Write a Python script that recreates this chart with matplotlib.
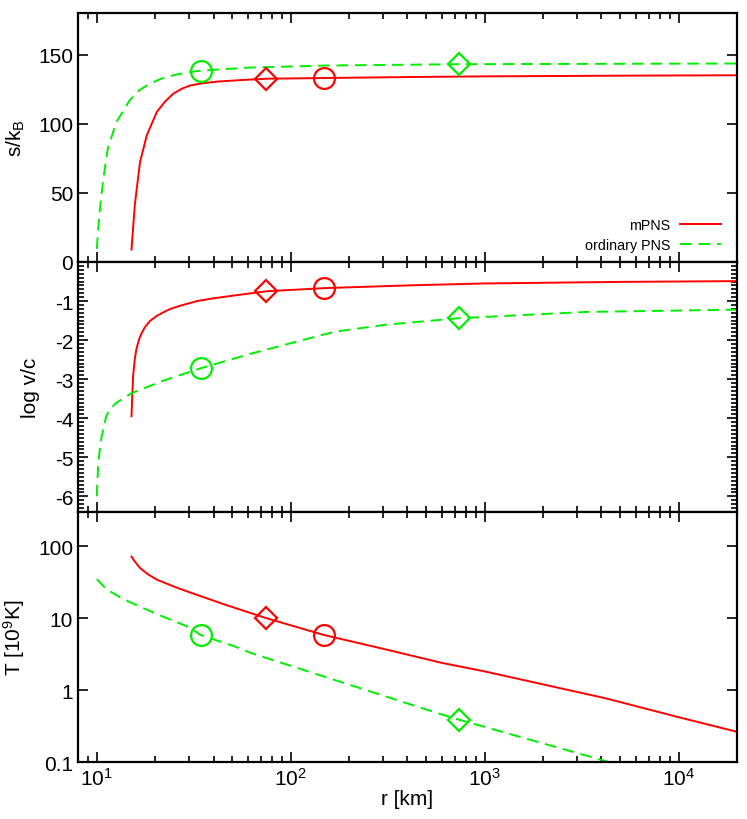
import matplotlib
matplotlib.use('Agg')
import matplotlib.pyplot as plt
from matplotlib.ticker import MultipleLocator, FixedLocator, FixedFormatter, LogLocator, NullFormatter

plt.rcParams['font.family'] = ['Liberation Sans', 'DejaVu Sans']
plt.rcParams['mathtext.fontset'] = 'custom'
plt.rcParams['mathtext.rm'] = 'Liberation Sans'
plt.rcParams['mathtext.it'] = 'Liberation Sans'
plt.rcParams['axes.unicode_minus'] = False

# --- entropy panel (s/k_B) ---
r_s_m = [15.1, 15.7, 16.7, 18.1, 20.4, 22.5, 24.8, 27.5, 30.3, 35, 41.7, 55, 75, 148, 400, 1000, 5000, 20000]
s_m = [9, 41, 72, 91.5, 108.5, 116, 121.7, 125.3, 127.6, 129.2, 130.4, 131.5, 132.5, 133, 133.7, 134.2,
       134.7, 135]
r_s_o = [10, 10.3, 10.8, 11.4, 12.6, 14.8, 16.5, 18.8, 21.5, 24.8, 28.5, 34.2, 60, 150, 733, 20000]
s_o = [9.4, 34, 60, 82, 101, 117, 124, 129, 132.5, 135, 136.8, 138.3, 140.5, 142, 143, 143.5]

# --- velocity panel (log v/c) ---
r_v_m = [15.1, 15.24, 15.4, 15.7, 16, 16.5, 17, 17.7, 18.8, 20.4, 22, 24, 26.9, 33, 40, 49, 75, 148, 400,
         1000, 5000, 20000]
v_m = [-3.95, -3.43, -2.91, -2.49, -2.23, -1.99, -1.83, -1.67, -1.51, -1.38, -1.29, -1.2, -1.12, -1.0,
       -0.93, -0.87, -0.75, -0.67, -0.6, -0.55, -0.51, -0.49]
r_v_o = [10, 10.16, 10.45, 10.8, 11.2, 11.7, 12.64, 15.1, 22, 34.4, 62, 167, 304, 733, 3300, 20000]
v_o = [-6.0, -5.22, -4.62, -4.28, -3.94, -3.77, -3.6, -3.36, -3.04, -2.72, -2.35, -1.79, -1.61, -1.44,
       -1.28, -1.22]

# --- temperature panel (T [10^9 K]) ---
r_t_m = [15.1, 15.6, 16.7, 18.3, 20.4, 25, 30.3, 45, 75, 148, 300, 598, 1000, 4200, 10000, 20000]
t_m = [72, 63, 50, 41, 34.4, 27.5, 22.8, 15.7, 10, 5.85, 3.75, 2.4, 1.82, 0.77, 0.42, 0.263]
r_t_o = [10, 11.2, 13.7, 20.4, 30.3, 34.2, 50.8, 62, 598, 733, 4370]
t_o = [35, 25.4, 18.4, 11.4, 7.4, 5.85, 4.1, 3.3, 0.46, 0.39, 0.1]

# marker positions (circle / diamond)
r_circ_m, r_diam_m = 148, 75
r_circ_o, r_diam_o = 34.3, 733
mark_s = {'circ_m': 133, 'diam_m': 132.5, 'circ_o': 138.3, 'diam_o': 143}
mark_v = {'circ_m': -0.67, 'diam_m': -0.75, 'circ_o': -2.72, 'diam_o': -1.44}
mark_t = {'circ_m': 5.85, 'diam_m': 10, 'circ_o': 5.85, 'diam_o': 0.39}

RED = '#ff0000'
GREEN = '#00ee00'
LW = 1.4
DASH = (0, (6, 3.5))
FS = 15

fig = plt.figure(figsize=(7.47, 8.2), dpi=100)
W, L = 0.8822, 0.1044
ax1 = fig.add_axes([L, 0.6793, W, 0.3036])
ax2 = fig.add_axes([L, 0.3744, W, 0.3049])
ax3 = fig.add_axes([L, 0.0695, W, 0.3049])

panels = [
    (ax1, r_s_m, s_m, r_s_o, s_o, mark_s),
    (ax2, r_v_m, v_m, r_v_o, v_o, mark_v),
    (ax3, r_t_m, t_m, r_t_o, t_o, mark_t),
]

for ax, rm, ym, ro, yo, mk in panels:
    ax.set_xscale('log')
    ax.plot(rm, ym, color=RED, lw=LW, label='mPNS')
    ax.plot(ro, yo, color=GREEN, lw=LW, linestyle=DASH, label='ordinary PNS')
    ax.plot([r_circ_m], [mk['circ_m']], 'o', ms=15, mfc='none', mec=RED, mew=1.6)
    ax.plot([r_diam_m], [mk['diam_m']], 'D', ms=11, mfc='none', mec=RED, mew=1.6)
    ax.plot([r_circ_o], [mk['circ_o']], 'o', ms=15, mfc='none', mec=GREEN, mew=1.6)
    ax.plot([r_diam_o], [mk['diam_o']], 'D', ms=11, mfc='none', mec=GREEN, mew=1.6)
    ax.set_xlim(8, 2e4)
    ax.xaxis.set_major_locator(LogLocator(base=10, numticks=10))
    ax.xaxis.set_minor_locator(LogLocator(base=10, subs=range(2, 10), numticks=20))
    ax.xaxis.set_minor_formatter(NullFormatter())
    ax.tick_params(which='both', direction='in', top=True, right=True, labelsize=FS, width=1.2)
    ax.tick_params(which='major', length=7)
    ax.tick_params(which='minor', length=4)
    for sp in ax.spines.values():
        sp.set_linewidth(1.6)
    if ax is not ax3:
        ax.tick_params(labelbottom=False)

ax1.set_ylim(0, 180)
ax1.yaxis.set_major_locator(FixedLocator([0, 50, 100, 150]))
ax1.yaxis.set_minor_locator(FixedLocator([]))
ax1.set_ylabel('s/k$_\\mathrm{B}$', fontsize=FS)
ax1.yaxis.set_label_coords(-0.077, 0.5)
leg = ax1.legend(loc='center right', bbox_to_anchor=(0.9757, 0.108), frameon=False,
                 markerfirst=False, fontsize=10.3, handlelength=2.86, handletextpad=0.7,
                 borderpad=0, borderaxespad=0, labelspacing=0.47)

ax2.set_ylim(-6.4, 0)
ax2.yaxis.set_major_locator(FixedLocator([-6, -5, -4, -3, -2, -1]))
ax2.yaxis.set_minor_locator(MultipleLocator(0.1))
ax2.set_ylabel('log v/c', fontsize=FS)
ax2.yaxis.set_label_coords(-0.058, 0.5)

ax3.set_yscale('log')
ax3.set_ylim(0.1, 300)
ax3.yaxis.set_major_locator(FixedLocator([0.1, 1, 10, 100]))
ax3.yaxis.set_major_formatter(FixedFormatter(['0.1', '1', '10', '100']))
ax3.yaxis.set_minor_locator(FixedLocator([]))
ax3.set_ylabel('T [10$^9$K]', fontsize=FS)
ax3.yaxis.set_label_coords(-0.077, 0.5)
ax3.set_xlabel('r [km]', fontsize=FS, labelpad=0)

fig.savefig('out.png', dpi=100)
